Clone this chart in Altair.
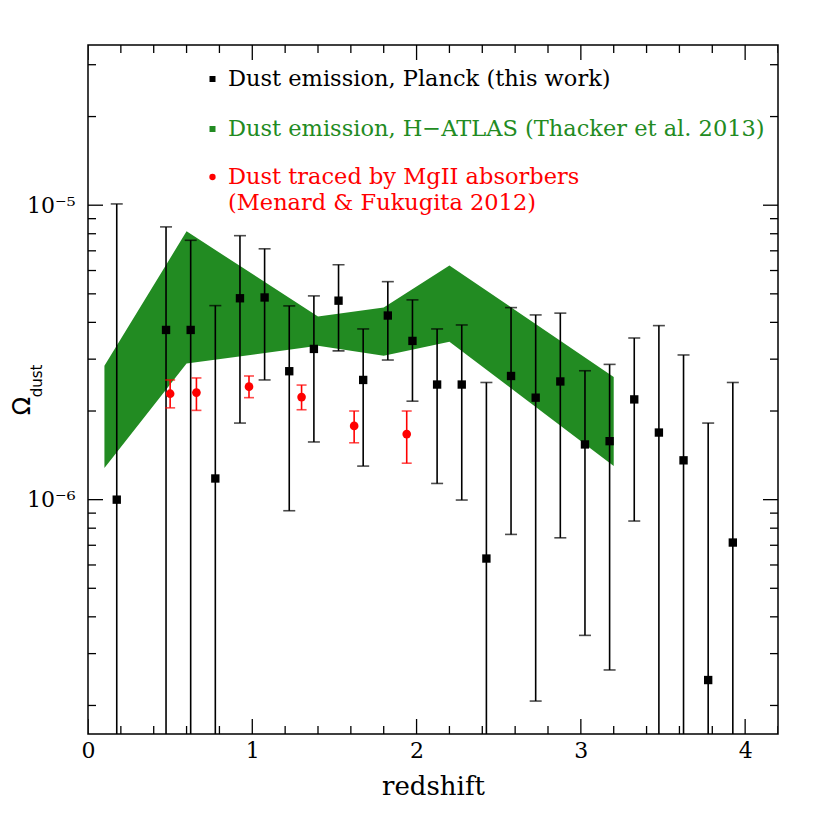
import altair as alt
import pandas as pd

# ---------------- data ----------------
planck_z = [0.175, 0.475, 0.625, 0.775, 0.925, 1.075, 1.225, 1.375, 1.525, 1.675,
            1.825, 1.975, 2.125, 2.275, 2.425, 2.575, 2.725, 2.875, 3.025, 3.175,
            3.325, 3.475, 3.625, 3.775, 3.925]
planck_val = [1.00e-6, 3.77e-6, 3.77e-6, 1.18e-6, 4.83e-6, 4.86e-6, 2.73e-6, 3.25e-6,
              4.74e-6, 2.55e-6, 4.22e-6, 3.46e-6, 2.46e-6, 2.46e-6, 6.31e-7, 2.63e-6,
              2.22e-6, 2.52e-6, 1.54e-6, 1.58e-6, 2.19e-6, 1.69e-6, 1.36e-6, 2.44e-7,
              7.15e-7]
planck_hi = [1.01e-5, 8.44e-6, 7.60e-6, 4.56e-6, 7.88e-6, 7.11e-6, 4.55e-6, 4.92e-6,
             6.28e-6, 3.80e-6, 5.50e-6, 4.77e-6, 3.80e-6, 3.92e-6, 2.50e-6, 4.49e-6,
             4.24e-6, 4.30e-6, 2.74e-6, 2.88e-6, 3.54e-6, 3.90e-6, 3.10e-6, 1.82e-6,
             2.50e-6]
# 1e-9 marks a lower bound consistent with zero (bar runs off the bottom)
planck_lo = [1e-9, 1e-9, 1e-9, 1e-9, 1.82e-6, 2.55e-6, 9.17e-7, 1.57e-6,
             3.20e-6, 1.30e-6, 2.98e-6, 2.16e-6, 1.135e-6, 9.97e-7, 1e-9, 7.62e-7,
             2.07e-7, 7.42e-7, 3.46e-7, 2.64e-7, 8.46e-7, 1e-9, 1e-9, 1e-9,
             1e-9]

mgii_z = [0.50, 0.66, 0.98, 1.30, 1.62, 1.94]
mgii_val = [2.29e-6, 2.31e-6, 2.42e-6, 2.23e-6, 1.78e-6, 1.67e-6]
mgii_hi = [2.55e-6, 2.59e-6, 2.63e-6, 2.45e-6, 2.00e-6, 2.00e-6]
mgii_lo = [2.05e-6, 2.01e-6, 2.22e-6, 2.02e-6, 1.56e-6, 1.33e-6]

hatlas_z = [0.1, 0.6, 1.4, 1.8, 2.2, 3.2]
hatlas_hi = [2.85e-6, 8.15e-6, 4.19e-6, 4.49e-6, 6.24e-6, 2.61e-6]
hatlas_lo = [1.28e-6, 2.90e-6, 3.33e-6, 3.08e-6, 3.44e-6, 1.30e-6]

legend_labels = ["Dust emission, Planck (this work)",
                 "Dust emission, H\u2212ATLAS (Thacker et al. 2013)",
                 "Dust traced by MgII absorbers",
                 "(Menard & Fukugita 2012)"]

x_major = [0, 1, 2, 3, 4]
x_minor = [0.2, 0.4, 0.6, 0.8, 1.2, 1.4, 1.6, 1.8, 2.2, 2.4, 2.6, 2.8,
           3.2, 3.4, 3.6, 3.8, 4.2]
y_major = [1e-6, 1e-5]
y_minor = [2e-7, 3e-7, 4e-7, 5e-7, 6e-7, 7e-7, 8e-7, 9e-7,
           2e-6, 3e-6, 4e-6, 5e-6, 6e-6, 7e-6, 8e-6, 9e-6, 2e-5, 3e-5]

# ---------------- style ----------------
W, H = 690, 689
FONT = "DejaVu Serif"
GREEN = "#228B22"
RED = "#FF0000"

xscale = alt.Scale(domain=[0, 4.2], nice=False, zero=False)
yscale = alt.Scale(type="log", domain=[1.6e-7, 3.5e-5], nice=False)

xaxis = alt.Axis(values=x_major, ticks=False, tickSize=0, domain=False, grid=False,
                 labelFont=FONT, labelFontSize=22, labelColor="black", labelPadding=6,
                 labelFlush=False,
                 titleFont=FONT, titleFontSize=26, titleFontWeight="normal",
                 titleColor="black", titlePadding=12, format="d", title="redshift")
yaxis = alt.Axis(values=y_major, ticks=False, tickSize=0, domain=False, grid=False,
                 labelFont=FONT, labelFontSize=22, labelColor="black", labelPadding=13,
                 labelFlush=False,
                 labelExpr="'10' + (datum.value < 3e-6 ? '\u207b\u2076' : '\u207b\u2075')",
                 title=None)

planck = pd.DataFrame({"z": planck_z, "v": planck_val, "hi": planck_hi, "lo": planck_lo})
mgii = pd.DataFrame({"z": mgii_z, "v": mgii_val, "hi": mgii_hi, "lo": mgii_lo})
hatlas = pd.DataFrame({"z": hatlas_z, "hi": hatlas_hi, "lo": hatlas_lo})


def X(f="z"):
    return alt.X(f"{f}:Q", scale=xscale, axis=xaxis, title="redshift")


def Y(f):
    return alt.Y(f"{f}:Q", scale=yscale, axis=yaxis, title=None)


band = alt.Chart(hatlas).mark_area(color=GREEN, opacity=1, clip=True).encode(
    x=X(), y=Y("hi"), y2="lo:Q")

p_bar = alt.Chart(planck).mark_rule(color="black", strokeWidth=1.6, clip=True).encode(
    x=X(), y=Y("lo"), y2="hi:Q")
p_cap_hi = alt.Chart(planck).mark_tick(color="black", orient="horizontal", size=12,
                                       thickness=1.6, clip=True).encode(x=X(), y=Y("hi"))
p_cap_lo = alt.Chart(planck).mark_tick(color="black", orient="horizontal", size=12,
                                       thickness=1.6, clip=True).encode(x=X(), y=Y("lo"))
p_pts = alt.Chart(planck).mark_square(color="black", size=70, opacity=1, clip=True).encode(
    x=X(), y=Y("v"))

m_bar = alt.Chart(mgii).mark_rule(color=RED, strokeWidth=1.6, clip=True).encode(
    x=X(), y=Y("lo"), y2="hi:Q")
m_cap_hi = alt.Chart(mgii).mark_tick(color=RED, orient="horizontal", size=10,
                                     thickness=1.6, clip=True).encode(x=X(), y=Y("hi"))
m_cap_lo = alt.Chart(mgii).mark_tick(color=RED, orient="horizontal", size=10,
                                     thickness=1.6, clip=True).encode(x=X(), y=Y("lo"))
m_pts = alt.Chart(mgii).mark_circle(color=RED, size=75, opacity=1, clip=True).encode(
    x=X(), y=Y("v"))


# inward ticks on all four sides
def xticks(vals, length):
    df = pd.DataFrame({"t": vals})
    b = alt.Chart(df).mark_rule(color="black", strokeWidth=1.3, clip=True).encode(
        x=X("t"), y=alt.value(H), y2=alt.value(H - length))
    t = alt.Chart(df).mark_rule(color="black", strokeWidth=1.3, clip=True).encode(
        x=X("t"), y=alt.value(0), y2=alt.value(length))
    return [b, t]


def yticks(vals, length):
    df = pd.DataFrame({"t": vals})
    l = alt.Chart(df).mark_rule(color="black", strokeWidth=1.3, clip=True).encode(
        y=Y("t"), x=alt.value(0), x2=alt.value(length))
    r = alt.Chart(df).mark_rule(color="black", strokeWidth=1.3, clip=True).encode(
        y=Y("t"), x=alt.value(W), x2=alt.value(W - length))
    return [l, r]


ticks = xticks(x_major, 15) + xticks(x_minor, 8) + yticks(y_major, 15) + yticks(y_minor, 8)

# legend (inside the plot)
LX_SYM, LX_TXT = 124.5, 140
LFS = 22.5


def leg_text(label, y, color):
    return alt.Chart(pd.DataFrame({"label": [label]})).mark_text(
        font=FONT, fontSize=LFS, color=color, align="left", baseline="middle").encode(
        x=alt.value(LX_TXT), y=alt.value(y), text="label:N")


leg = [
    alt.Chart(pd.DataFrame({"label": [legend_labels[0]]})).mark_square(
        color="black", size=36, opacity=1).encode(x=alt.value(LX_SYM), y=alt.value(34)),
    leg_text(legend_labels[0], 34, "black"),
    alt.Chart(pd.DataFrame({"label": [legend_labels[1]]})).mark_square(
        color=GREEN, size=36, opacity=1).encode(x=alt.value(LX_SYM), y=alt.value(84)),
    leg_text(legend_labels[1], 84, GREEN),
    alt.Chart(pd.DataFrame({"label": [legend_labels[2]]})).mark_circle(
        color=RED, size=40, opacity=1).encode(x=alt.value(LX_SYM), y=alt.value(132)),
    leg_text(legend_labels[2], 132, RED),
    leg_text(legend_labels[3], 158, RED),
]

# y-axis title: Omega with subscript "dust"
ytitle = [
    alt.Chart(pd.DataFrame({"label": ["\u03a9"]})).mark_text(
        font="DejaVu Sans", fontSize=24, color="black", angle=270,
        align="center", baseline="middle").encode(
        x=alt.value(-65), y=alt.value(361), text="label:N"),
    alt.Chart(pd.DataFrame({"label": ["dust"]})).mark_text(
        font="DejaVu Sans", fontSize=15, color="black", angle=270,
        align="center", baseline="middle").encode(
        x=alt.value(-51), y=alt.value(336), text="label:N"),
]

chart = alt.layer(band, p_bar, p_cap_hi, p_cap_lo, p_pts,
                  m_bar, m_cap_hi, m_cap_lo, m_pts, *ticks, *leg, *ytitle).properties(
    width=W, height=H,
    background="white",
    autosize=alt.AutoSizeParams(type="none"),
    padding={"left": 80, "top": 37, "right": 30, "bottom": 80},
).configure_view(stroke="black", strokeWidth=1.5)

chart.save("out.html", embed_options={"renderer": "svg", "actions": False})
